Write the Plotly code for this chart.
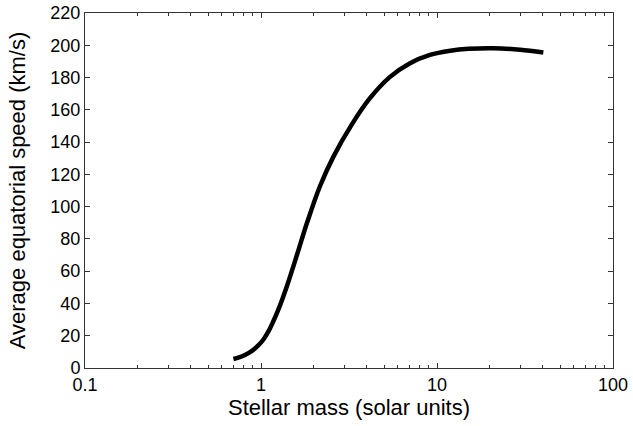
import plotly.graph_objects as go

# Data
mass = [0.697, 0.75, 0.811, 0.88, 0.965, 1.03, 1.10, 1.17, 1.253, 1.40, 1.60, 1.82, 2.16, 2.58,
        3.27, 4.16, 5.41, 7.03, 9.12, 11.9, 15.1, 20.9, 29.7, 40.2]
speed = [5.6, 6.6, 8.1, 10.3, 14.0, 17.5, 22.5, 28.5, 36.0, 50.4, 70.0, 89.5, 112.5, 131.0,
         150.7, 167.2, 180.4, 188.9, 194.0, 196.6, 197.8, 198.2, 197.2, 195.5]

x_ticks = [0.1, 1, 10, 100]
x_ticktext = ["0.1", "1", "10", "100"]
x_minor = [m * d for d in (0.1, 1, 10) for m in range(2, 10)]
y_ticks = list(range(0, 221, 20))

fig = go.Figure()
fig.add_trace(go.Scatter(x=mass, y=speed, mode="lines",
                         line=dict(color="black", width=4.5, shape="spline", smoothing=1.0),
                         showlegend=False, hoverinfo="skip"))

axis_color = "#333333"
font = dict(family="Liberation Sans, Arial, sans-serif", size=18, color="black")

fig.update_layout(
    width=633, height=426,
    margin=dict(l=85, r=20, t=13, b=58, autoexpand=False),
    plot_bgcolor="white", paper_bgcolor="white",
    font=font,
    xaxis=dict(
        type="log", range=[-1, 2], automargin=False,
        tickvals=x_ticks, ticktext=x_ticktext,
        ticks="inside", ticklen=5, tickwidth=1, tickcolor=axis_color,
        minor=dict(tickvals=x_minor, ticks="inside", ticklen=3, tickwidth=1,
                   tickcolor=axis_color, showgrid=False),
        showline=True, linecolor=axis_color, linewidth=1, mirror="ticks",
        showgrid=False, zeroline=False,
        title=dict(text="Stellar mass (solar units)", standoff=2),
        tickfont=font,
    ),
    yaxis=dict(
        range=[0, 220], tickvals=y_ticks, automargin=False,
        ticks="inside", ticklen=5, tickwidth=1, tickcolor=axis_color,
        showline=True, linecolor=axis_color, linewidth=1, mirror="ticks",
        showgrid=False, zeroline=False,
        title=dict(text="Average equatorial speed (km/s)", standoff=18),
        tickfont=font,
    ),
)

fig.write_html("out.html")
